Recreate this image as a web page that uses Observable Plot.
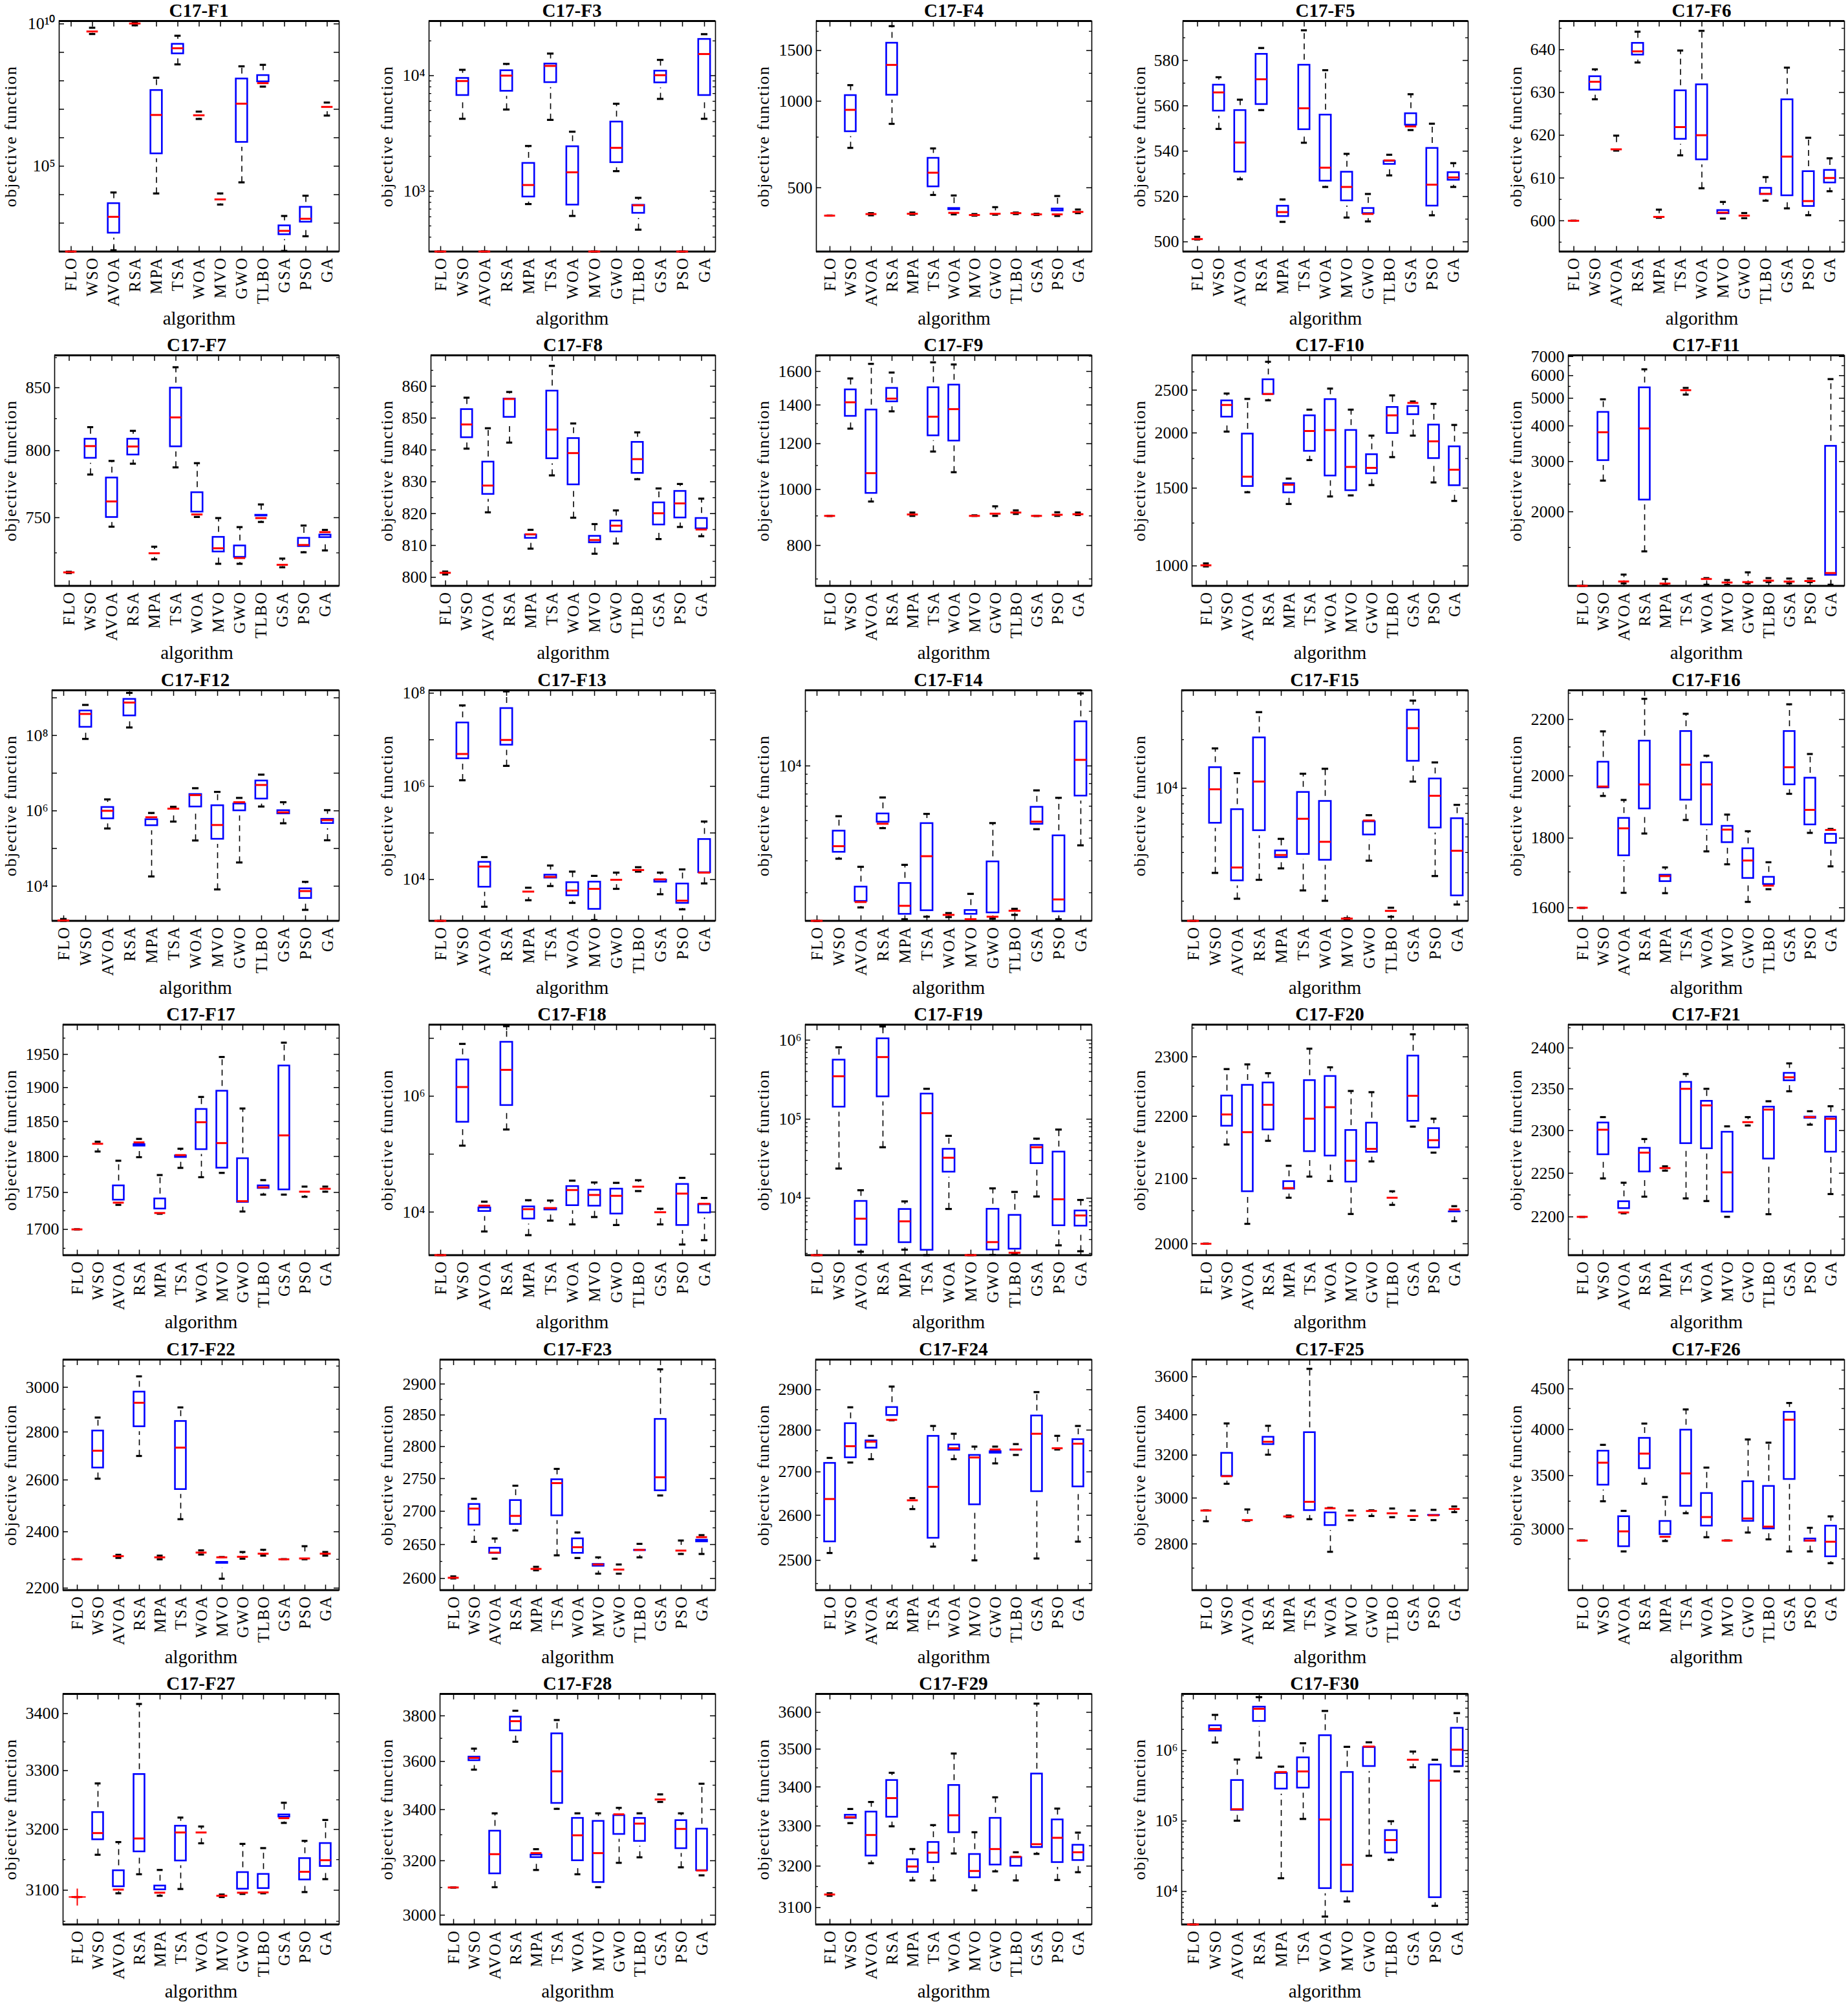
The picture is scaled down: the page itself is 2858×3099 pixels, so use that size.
<!DOCTYPE html>
<html><head><meta charset="utf-8">
<script src="https://cdn.jsdelivr.net/npm/d3@7"></script>
<script src="https://cdn.jsdelivr.net/npm/@observablehq/plot@0.6"></script>
<style>
html,body{margin:0;padding:0;background:#fff;}
body{width:2858px;height:3099px;position:relative;overflow:hidden;font-family:'Liberation Serif','Times New Roman',Times,serif;}
.cell{position:absolute;width:530px;height:517px;}
.title{position:absolute;top:0;height:32px;line-height:32px;text-align:center;font-weight:bold;font-size:29px;color:#000;white-space:nowrap;}
.cell svg{position:absolute;top:26px;left:0;overflow:visible;}
g[aria-label="x-axis tick label"] text{letter-spacing:2px;}
</style></head><body>
<script>
const algorithms = ["FLO","WSO","AVOA","RSA","MPA","TSA","WOA","MVO","GWO","TLBO","GSA","PSO","GA"];
const titles = ["C17-F1","C17-F3","C17-F4","C17-F5","C17-F6","C17-F7","C17-F8","C17-F9","C17-F10","C17-F11","C17-F12","C17-F13","C17-F14","C17-F15","C17-F16","C17-F17","C17-F18","C17-F19","C17-F20","C17-F21","C17-F22","C17-F23","C17-F24","C17-F25","C17-F26","C17-F27","C17-F28","C17-F29","C17-F30"];

// each row: [min, q1, median, q3, max] per algorithm (order as in `algorithms`)
const F1 = [[100,100,100,100,100],[4.4e9,4.7e9,5.4e9,6.7e9,7.3e9],[111,300,1660,7300,11900],[8.9e9,8.9e9,1.03e10,1.17e10,1.17e10],[11000,1.84e5,6.3e6,6.9e7,1.28e8],[3.77e8,6.0e8,1.39e9,2.9e9,3.83e9],[4.56e6,4.89e6,6.14e6,7.57e6,8.26e6],[4490,4810,6800,9800,11000],[27000,4.65e5,1.57e7,1.75e8,3.22e8],[6.24e7,6.24e7,8.26e7,2.31e8,3.64e8],[105,265,533,1210,1780],[345,731,1420,5430,9160],[6.0e6,8.26e6,1.21e7,1.55e7,1.72e7]];
const F3 = [[300,300,300,300,300],[4230,6100,8980,10500,11230],[300,300,300,301,302],[5090,6640,10000,12240,12630],[773,807,1130,1930,2460],[4140,7890,12140,13990,15520],[610,687,1456,2690,3270],[300,300,300,300,300],[1490,1600,2370,4400,5710],[464,583,754,837,875],[6290,7850,10090,12140,13690],[300,300,300,300,300],[4230,6100,15380,22850,22850]];
const F4 = [[400,400,400,400,400],[688,754,933,1089,1137],[401,403,405,407,408],[834,1010,1337,1656,1824],[403,404,406,409,410],[472,485,564,659,685],[404,404,409,441,470],[400,401,402,404,405],[403,404,406,416,428],[405,406,408,409,410],[402,403,404,405,406],[399,400,404,439,468],[408,409,412,417,420]];
const F5 = [[501,501,501.2,501.9,502.2],[549.8,555.5,565.9,571.4,572.6],[527.6,528.6,543.8,560.2,562.7],[558.1,558.4,571.7,585,585.5],[508.8,509,513.1,518,518.7],[543.7,547.3,558.9,580.2,593.3],[524.2,524.6,532.7,558.2,575.7],[510.7,515.9,524.2,533,538.8],[509,510.3,512.3,517,521.1],[529.3,532,535.9,537.8,538.4],[549.3,549.3,550.9,558.8,565.1],[511.7,513.6,525.2,543.5,552.1],[524.2,525,528.4,532.8,534.7]];
const F6 = [[600,600,600,600,600],[628.4,629.4,632.5,634.9,635.4],[616.4,616.4,616.7,618.3,619.9],[637,637.6,639.6,642.7,644.2],[600.7,600.7,600.9,601.7,602.6],[615.3,617.9,621.9,631.6,639.8],[607.6,613.1,620,633,644.4],[600.5,600.5,601.9,603.6,604.4],[600.6,600.7,601.2,601.5,601.8],[604.7,605,606.3,608.8,610.2],[602.9,604.7,615,629.5,635.8],[601.3,602.2,604.6,612.7,619.4],[606.9,607.7,610,613,614.6]];
const F7 = [[711,711,711.5,711.9,711.9],[781.8,790.4,803.5,812.9,818.3],[743.5,746.6,761.8,783.1,792.1],[790,792.9,803.2,812.9,815.4],[720.5,721.9,724.7,727.5,729.3],[787.2,799.2,826,853.9,866.9],[750.5,750.5,752.3,772.1,790.4],[717.4,722.2,728.2,739.6,749.7],[717.4,718.5,721.4,733.5,743.2],[746.9,747.7,749.7,755.5,759.6],[715,715.5,716.7,719.2,721],[725.4,726,730.5,738.9,744.3],[726.7,732.3,739.6,741.2,741.2]];
const F8 = [[800.9,800.9,801.4,801.8,801.8],[840.4,842.3,848,854.3,856.4],[820.4,824.5,828.8,837.8,846.8],[842.3,848.7,856,857.6,858.2],[809,810.7,813.5,814.9,814.9],[832,835.7,846.4,860.1,866.4],[818.7,827.5,839,845.2,848.3],[807.4,809.3,811.7,814.5,816.7],[810.6,812.7,816.2,819.3,821],[830.8,831.1,837.1,844,845.5],[812,814.9,820.1,825,827.9],[815.8,817.1,823.2,828.6,829.3],[812.9,813.7,815,820.1,824.7]];
const F9 = [[900,900,900,900,900],[1274,1313,1415,1517,1556],[953,966,1067,1400,1649],[1365,1391,1436,1526,1593],[900,901,905,910,912],[1163,1215,1336,1530,1659],[1071,1190,1377,1546,1645],[900,900,900,901,902],[900,900,908,923,935],[907,907,912,917,920],[900,900,900,900,900],[900,900,904,910,913],[903,903,906,910,912]];
const F10 = [[997,997,1003,1010,1013],[2014,2119,2314,2427,2456],[1468,1476,1592,2041,2388],[2371,2386,2450,2709,2898],[1381,1428,1527,1576,1576],[1736,1773,2020,2245,2258],[1436,1559,2030,2443,2520],[1444,1444,1675,2080,2258],[1524,1577,1667,1833,1972],[1763,1946,2192,2345,2432],[1972,2146,2339,2356,2356],[1545,1707,1914,2139,2327],[1403,1482,1651,1910,2085]];
const F11 = [[1100,1100,1100,1100,1100],[2572,2909,3799,4645,4955],[1123,1123,1140,1178,1205],[1453,2116,3917,5663,6313],[1110,1110,1121,1133,1163],[5149,5259,5333,5411,5432],[1110,1128,1163,1171,1171],[1109,1109,1130,1148,1153],[1123,1123,1134,1188,1227],[1134,1140,1147,1162,1171],[1123,1123,1139,1155,1167],[1134,1134,1144,1153,1167],[1110,1153,1220,3533,5834]];
const F12 = [[1200,1200,1230,1330,1340],[8.1e7,1.22e8,3.73e8,6.15e8,6.47e8],[3.4e5,4.54e5,1.0e6,1.69e6,2.01e6],[1.63e8,2.45e8,7.48e8,1.25e9,1.35e9],[18100,2.98e5,6.74e5,8.0e5,8.77e5],[5.18e5,7.69e5,1.14e6,1.28e6,1.28e6],[1.63e5,9.36e5,2.61e6,3.73e6,3.98e6],[8200,1.3e5,4.2e5,1.88e6,3.18e6],[42500,7.4e5,1.69e6,2.09e6,2.2e6],[1.3e6,1.52e6,4.85e6,8.53e6,9.12e6],[4.67e5,6.15e5,9.12e5,1.39e6,1.69e6],[2350,3490,7400,11700,13000],[1.65e5,3.4e5,5.68e5,8.2e5,1.04e6]];
const F13 = [[1300,1300,1300,1300,1300],[1.35e6,3.06e6,4.95e6,2.97e7,5.45e7],[2610,5380,19000,30300,30300],[2.75e6,6.0e6,9.9e6,6.05e7,1.09e8],[3600,4130,5510,6460,6670],[7260,8430,11400,16100,20000],[3160,3520,5800,11100,14800],[1350,1800,6320,11400,12000],[6320,7830,9890,12000,14100],[14800,14800,16000,17400,18400],[4840,6900,10100,12600,14100],[2300,2420,3520,10400,16500],[8260,11000,14100,93700,1.76e5]];
const F14 = [[1400,1400,1400,1400,1400],[3080,3140,3610,4670,5280],[1660,1683,1778,2296,2780],[4540,4600,4800,5810,6700],[1429,1429,1694,2404,2850],[1476,1496,3180,5140,5440],[1469,1469,1510,1540,1545],[1410,1429,1429,1706,1972],[1438,1455,1476,3162,4840],[1510,1549,1592,1621,1631],[4480,4480,4930,6320,7330],[1429,1476,1837,4400,6670],[3650,6410,10800,18700,25100]];
const F15 = [[1510,1510,1510,1510,1510],[2990,5660,9850,14450,17650],[2070,2490,3230,7940,12400],[2710,5090,11000,22100,29600],[3190,3470,3860,4410,4860],[2330,3630,6470,10150,12300],[2010,3340,4660,8930,13200],[1540,1550,1560,1565,1570],[3560,4790,6310,6680,6810],[1600,1630,1740,1820,1820],[11000,13700,23550,32800,34900],[2860,5290,8980,12300,14450],[1905,2010,4100,6980,7890]];
const F16 = [[1600,1600,1600,1600,1600],[1933,1944,1964,2064,2156],[1641,1733,1830,1877,1920],[1814,1876,1971,2139,2278],[1640,1659,1688,1705,1713],[1856,1904,2038,2174,2221],[1760,1826,1971,2062,2069],[1722,1772,1826,1852,1873],[1616,1668,1733,1783,1821],[1651,1651,1661,1699,1728],[1940,1954,2029,2174,2257],[1816,1826,1888,2009,2075],[1716,1770,1825,1827,1828]];
const F17 = [[1700,1700,1700,1700,1700],[1807,1811,1818,1820,1821],[1733,1733,1736,1766,1794],[1799,1808,1820,1824,1825],[1721,1721,1722,1748,1774],[1784,1792,1802,1808,1811],[1771,1803,1849,1875,1886],[1777,1777,1819,1902,1946],[1724,1730,1738,1804,1869],[1747,1749,1757,1766,1767],[1747,1747,1830,1940,1968],[1744,1746,1751,1757,1758],[1751,1752,1755,1757,1758]];
const F18 = [[1800,1800,1800,1800,1800],[1.4e5,2.92e5,1.44e6,5.2e6,8.0e6],[4620,8420,12900,14500,15100],[2.66e5,5.68e5,2.85e6,1.05e7,1.62e7],[3990,6240,11200,15100,16000],[7100,8940,11700,14100,15800],[6120,10600,24000,33900,34800],[8200,10400,19700,29300,32400],[5970,7600,19050,30600,31900],[23000,23000,27400,32700,35400],[6120,7870,9920,10600,11400],[2750,4820,20800,36900,38900],[3270,7920,13900,16500,17500]];
const F19 = [[1900,1900,1900,1900,1900],[23700,1.23e5,3.49e5,6.5e5,8.1e5],[2100,2200,5500,10600,12600],[44100,1.66e5,6.1e5,1.21e6,1.49e6],[2230,2370,5090,8380,9100],[1900,1900,1.19e5,2.42e5,2.42e5],[7300,18500,32500,48400,61500],[1900,1900,1900,1900,1900],[1915,1915,2780,8430,13300],[1960,1960,2040,7060,12000],[10500,23700,44100,54200,56600],[2530,3880,9680,44600,73800],[2130,3840,6040,8020,9500]];
const F20 = [[2000,2000,2000,2000,2000],[2154,2176,2203,2242,2279],[2030,2072,2174,2260,2287],[2160,2170,2219,2264,2272],[2070,2076,2085,2103,2120],[2103,2135,2196,2268,2314],[2096,2128,2215,2275,2282],[2045,2087,2128,2185,2242],[2127,2134,2147,2197,2240],[2059,2063,2070,2077,2080],[2183,2184,2234,2310,2339],[2141,2141,2161,2188,2196],[2034,2041,2052,2056,2057]];
const F21 = [[2200,2200,2200,2200,2200],[2244,2266,2301,2315,2316],[2204,2204,2205,2223,2239],[2223,2246,2274,2285,2290],[2253,2254,2256,2258,2258],[2221,2279,2350,2364,2368],[2218,2273,2330,2341,2350],[2200,2200,2251,2304,2305],[2306,2307,2310,2313,2316],[2203,2261,2325,2334,2335],[2347,2354,2364,2375,2381],[2307,2309,2316,2322,2323],[2226,2269,2314,2322,2329]];
const F22 = [[2300,2300,2300,2300,2300],[2605,2629,2720,2826,2863],[2305,2307,2311,2314,2316],[2698,2802,2929,3001,3051],[2300,2302,2307,2311,2313],[2447,2543,2733,2868,2908],[2317,2319,2324,2330,2332],[2232,2269,2307,2307,2308],[2302,2302,2309,2319,2326],[2313,2313,2320,2328,2334],[2300,2300,2300,2300,2300],[2300,2300,2303,2327,2347],[2313,2313,2320,2325,2326]];
const F23 = [[2600,2600,2601,2602.5,2603],[2654,2672,2704,2718,2719],[2629,2630,2638,2652,2659],[2671,2673,2693,2724,2739],[2612,2613,2614,2617,2617],[2634,2686,2743,2756,2765],[2630,2630,2646,2666,2668],[2607,2611,2620.5,2628,2631],[2607,2607,2613,2620,2620.5],[2631,2634,2642,2649,2651],[2724,2724,2752,2851,2924],[2636,2637,2641,2649,2656],[2636,2647,2661,2664,2664]];
const F24 = [[2516,2530,2637,2732,2733],[2722,2722,2761,2828,2856],[2730,2745,2772,2786,2786],[2824,2824,2825,2868,2908],[2614,2622,2634,2639,2639],[2530,2538,2665,2797,2810],[2730,2740,2756,2776,2791],[2500,2613,2734,2751,2760],[2720,2733,2753,2760,2760],[2740,2740,2753,2764,2766],[2504,2643,2791,2847,2894],[2753,2753,2756,2771,2786],[2541,2654,2767,2789,2810]];
const F25 = [[2897,2920,2944,2945,2945],[3065,3078,3100,3233,3356],[2899,2899,2902,2928,2949],[3202,3228,3265,3312,3344],[2915,2916,2918,2921,2922],[2906,2923,2983,3335,3643],[2767,2858,2954,2956,2956],[2902,2902,2922,2944,2944],[2920,2930,2942,2945,2945],[2915,2915,2932,2951,2953],[2903,2903,2920,2943,2944],[2902,2902,2923,2945,2947],[2937,2945,2951,2958,2962]];
const F26 = [[2900,2900,2900,2900,2900],[3249,3358,3633,3812,3826],[2810,2810,2978,3153,3160],[3419,3522,3730,3956,4069],[2896,2910,2932,3110,3289],[3139,3159,3522,4051,4239],[2928,2983,3104,3372,3582],[2900,2900,2900,2900,2900],[2968,3024,3091,3489,3886],[2910,2959,3019,3442,3850],[2810,3414,4115,4266,4319],[2810,2855,2900,2956,3009],[2716,2729,2890,3068,3110]];
const F27 = [[3089,3089,3089,3089,3089],[3158,3175,3194,3237,3278],[3095,3098,3101,3140,3179],[3126,3155,3185,3302,3417],[3091,3093,3096,3115,3133],[3102,3140,3195,3214,3220],[3177,3185,3195,3200,3205],[3089,3089,3091,3093,3093],[3094,3094,3096,3137,3176],[3095,3095,3096.5,3134,3169],[3211,3213,3219,3233,3245],[3097,3109,3130,3160,3181],[3118,3131,3149,3185,3216]];
const F27_outliers = [["FLO", 3089]];
const F28 = [[3100,3100,3100,3100,3100],[3565,3583,3615,3640,3655],[3101,3133,3225,3334,3385],[3685,3712,3776,3817,3823],[3165,3194,3229,3241,3244],[3403,3406,3558,3742,3781],[3149,3182,3298,3385,3385],[3101,3101,3229,3373,3385],[3192,3283,3381,3396,3407],[3213,3256,3344,3385,3385],[3431,3431,3441,3457,3462],[3175,3228,3323,3376,3385],[3145,3145,3163,3342,3506]];
const F29 = [[3128,3129,3131,3133,3134],[3307,3307,3322,3340,3343],[3207,3213,3277,3348,3361],[3299,3310,3371,3430,3437],[3165,3173,3199,3228,3242],[3165,3197,3233,3271,3302],[3231,3271,3327,3417,3488],[3141,3160,3188,3241,3284],[3187,3191,3242,3332,3373],[3165,3188,3223,3233,3234],[3230,3234,3254,3447,3624],[3166,3197,3270,3328,3344],[3185,3202,3234,3264,3283]];
const F30 = [[3400,3400,3400,3400,3400],[1.3e6,1.61e6,2.03e6,2.67e6,3.21e6],[1.01e5,1.21e5,1.47e5,4.46e5,7.46e5],[7.94e5,2.21e6,3.92e6,4.91e6,5.73e6],[15400,2.42e5,4.95e5,5.62e5,5.92e5],[1.07e5,2.5e5,5.06e5,9.35e5,1.27e6],[4400,9350,1.05e5,1.93e6,3.65e6],[7210,8410,23900,5.8e5,1.13e6],[32100,5.06e5,1.14e6,1.31e6,1.31e6],[28100,29900,53700,86900,99300],[5.8e5,6.44e5,7.41e5,8.71e5,9.68e5],[6250,6950,3.74e5,7.41e5,7.41e5],[5.06e5,5.06e5,1.03e6,2.46e6,3.4e6]];

const panels = [F1,F3,F4,F5,F6,F7,F8,F9,F10,F11,F12,F13,F14,F15,F16,F17,F18,F19,F20,F21,F22,F23,F24,F25,F26,F27,F28,F29,F30];
const outliers = {25: F27_outliers};

// y-axis domains and labelled ticks
const yDomains = [[100,1.26e10],[300,29700],[300,1900],[495.7,597.4],[592.8,646.7],[702.3,876.9],[797.3,869.7],[681,1706],[901,2997],[1100,7066],[1200,1.58e9],[1300,1.15e8],[1400,26100],[1510,40400],[1565,2311],[1666,1996],[1800,1.72e7],[1900,1.57e6],[1983,2356],[2157,2429],[2193,3131],[2583,2940],[2436,2977],[2612,3694],[2512,4897],[3045,3435],[2967,3900],[3060,3651],[3400,6.37e6]];
const yLabels = [[1e5,1e10],[1e3,1e4],[500,1000,1500],[500,520,540,560,580],[600,610,620,630,640],[750,800,850],[800,810,820,830,840,850,860],[800,1000,1200,1400,1600],[1000,1500,2000,2500],[2000,3000,4000,5000,6000,7000],[1e4,1e6,1e8],[1e4,1e6,1e8],[1e4],[1e4],[1600,1800,2000,2200],[1700,1750,1800,1850,1900,1950],[1e4,1e6],[1e4,1e5,1e6],[2000,2100,2200,2300],[2200,2250,2300,2350,2400],[2200,2400,2600,2800,3000],[2600,2650,2700,2750,2800,2850,2900],[2500,2600,2700,2800,2900],[2800,3000,3200,3400,3600],[3000,3500,4000,4500],[3100,3200,3300,3400],[3000,3200,3400,3600,3800],[3100,3200,3300,3400,3500,3600],[1e4,1e5,1e6]];
// dec: log, decade ticks; sub: log, decade + 2..9 minor; log: log, labelled + mid minor; lin: linear
const tickKinds = ["dec","sub","log","lin","lin","log","lin","log","log","log","dec","dec","sub","sub","log","log","dec","sub","log","log","log","log","log","log","log","log","log","log","sub"];

// layout (not data)
const frameLefts = [91,81,98,83,83, 84,84,97,97,97, 80,81,81,81,97, 97,81,81,97,97, 97,98,97,97,97, 97,98,97,81];
const COL_PITCH = 582, ROW_PITCH = 517.4, SVG_TOP = 26;
const W = 530, H = 491, FRAME_RIGHT = 524, FRAME_TOP = 32, FRAME_BOTTOM = 388.5;
const YLAB_X = 16, XLAB_Y = 492;
const FONT = "'Liberation Serif','Times New Roman',Times,serif";

const SUP = {"0":"⁰","1":"¹","2":"²","3":"³","4":"⁴","5":"⁵","6":"⁶","7":"⁷","8":"⁸","9":"⁹","-":"⁻"};
const pow10Label = d => "10" + String(Math.round(Math.log10(d))).split("").map(c => SUP[c]).join("");

panels.forEach((rows, i) => {
  const col = i % 5, row = Math.floor(i / 5);
  const fl = frameLefts[i];
  const fw = FRAME_RIGHT - fl;
  const bw = fw / algorithms.length;
  const boxInset = bw * 0.23;
  const capInset = bw * 0.35;
  const dom = yDomains[i];
  const kind = tickKinds[i];
  const labels = yLabels[i];
  const inDom = v => v >= dom[0] * 0.9999 && v <= dom[1] * 1.0001;
  let major = [], minor = [];
  if (kind === "dec" || kind === "sub") {
    for (let e = Math.floor(Math.log10(dom[0])); e <= Math.ceil(Math.log10(dom[1])); e++) {
      const p = Math.pow(10, e);
      if (inDom(p)) major.push(p);
      if (kind === "sub") for (let k = 2; k <= 9; k++) if (inDom(k * p)) minor.push(k * p);
    }
  } else {
    major = labels.slice();
    const step = labels[1] - labels[0];
    for (let v = labels[0] - step / 2; v > dom[0]; v -= step) minor.push(v);
    for (let v = labels[0] + step / 2; v < dom[1]; v += step) minor.push(v);
  }
  const fmt = (kind === "dec" || kind === "sub") ? pow10Label : d => String(d);
  const data = rows.map((r, j) => ({alg: algorithms[j], min: r[0], q1: r[1], med: r[2], q3: r[3], max: r[4]}));
  const outl = (outliers[i] || []).map(o => ({alg: o[0], value: o[1]}));

  const marks = [
    Plot.frame({stroke: "#000", strokeWidth: 1.6}),
    Plot.ruleY([dom[1]], {stroke: "#000", strokeWidth: 3.2}),
    Plot.ruleY([dom[0]], {stroke: "#000", strokeWidth: 3.2}),
    Plot.tickY(major, {y: d => d, stroke: "#000", strokeWidth: 1.5, insetRight: fw - 8}),
    Plot.tickY(major, {y: d => d, stroke: "#000", strokeWidth: 1.5, insetLeft: fw - 8}),
    Plot.tickY(minor, {y: d => d, stroke: "#000", strokeWidth: 1.3, insetRight: fw - 4}),
    Plot.tickY(minor, {y: d => d, stroke: "#000", strokeWidth: 1.3, insetLeft: fw - 4}),
    Plot.axisX({anchor: "bottom", tickSize: 8, dy: -8, strokeWidth: 1.5, tickFormat: () => "", label: null}),
    Plot.axisX({anchor: "top", tickSize: 8, dy: 8, strokeWidth: 1.5, tickFormat: () => "", label: null}),
    Plot.axisX({anchor: "bottom", tickSize: 0, tickPadding: 8, tickRotate: -90, fontSize: 25, label: null}),
    Plot.axisY(labels, {anchor: "left", tickSize: 0, tickPadding: 6, tickFormat: fmt, fontSize: 26, label: null}),
    Plot.ruleX(data, {x: "alg", y1: "q3", y2: "max", stroke: "#000", strokeWidth: 1.6, strokeDasharray: "9,7"}),
    Plot.ruleX(data, {x: "alg", y1: "min", y2: "q1", stroke: "#000", strokeWidth: 1.6, strokeDasharray: "9,7"}),
    Plot.tickY(data, {x: "alg", y: "max", stroke: "#000", strokeWidth: 3.2, inset: capInset}),
    Plot.tickY(data, {x: "alg", y: "min", stroke: "#000", strokeWidth: 3.2, inset: capInset}),
    Plot.barY(data, {x: "alg", y1: "q1", y2: "q3", fill: "none", stroke: "#0000ff", strokeWidth: 2.6, inset: boxInset}),
    Plot.tickY(data, {x: "alg", y: "med", stroke: "#ff0000", strokeWidth: 3, inset: boxInset}),
    Plot.dot(outl, {x: "alg", y: "value", symbol: "plus", stroke: "#ff0000", strokeWidth: 2, r: 8.5}),
    Plot.text(["objective function"], {text: d => d, frameAnchor: "left", dx: YLAB_X - fl, rotate: -90, fontSize: 26, textAnchor: "middle", lineAnchor: "middle"}),
    Plot.text(["algorithm"], {text: d => d, frameAnchor: "bottom", dy: XLAB_Y - FRAME_BOTTOM, fontSize: 29, lineAnchor: "middle"})
  ];

  const svg = Plot.plot({
    width: W, height: H,
    marginLeft: fl, marginRight: W - FRAME_RIGHT,
    marginTop: FRAME_TOP - SVG_TOP, marginBottom: H - (FRAME_BOTTOM - SVG_TOP),
    x: {type: "band", domain: algorithms, padding: 0, label: null},
    y: {type: kind === "lin" ? "linear" : "log", domain: dom, label: null},
    style: {fontFamily: FONT, fontSize: "26px", color: "#000", background: "transparent", overflow: "visible"},
    marks
  });
  svg.querySelectorAll("text").forEach(t => {
    if (t.textContent === "objective function") t.style.letterSpacing = "1.7px";
  });

  const cell = document.createElement("div");
  cell.className = "cell";
  cell.style.left = (col * COL_PITCH) + "px";
  cell.style.top = (row * ROW_PITCH) + "px";
  const t = document.createElement("div");
  t.className = "title";
  t.textContent = titles[i];
  t.style.left = fl + "px";
  t.style.width = fw + "px";
  cell.appendChild(t);
  cell.appendChild(svg);
  document.body.appendChild(cell);
});
</script>
</body></html>
